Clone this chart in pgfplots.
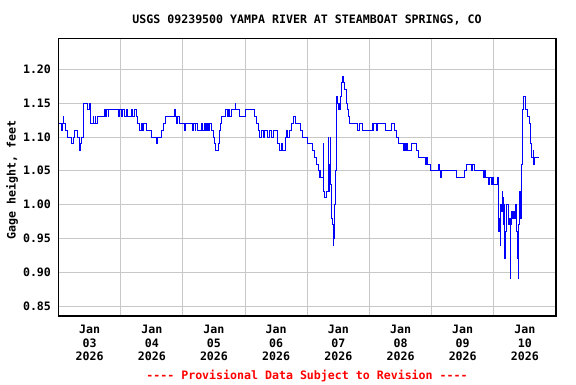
\documentclass[border=0pt]{standalone}
\usepackage{pgfplots}
\pgfplotsset{compat=1.18}
\usepackage{fontspec}
\setmonofont[BoldFont={DejaVu Sans Mono Bold}]{DejaVu Sans Mono}
\definecolor{gridgray}{RGB}{200,200,200}
\newcommand\lbl{\fontsize{11.6}{13.4}\selectfont\ttfamily\bfseries}
\begin{document}
\begin{tikzpicture}[x=1pt,y=1pt]
\useasboundingbox (0,0) rectangle (576,384);
\begin{axis}[
  at={(58.5pt,68pt)}, anchor=south west,
  width=497.5pt, height=277.5pt, scale only axis,
  xmin=0, xmax=8, ymin=0.8352, ymax=1.2456,
  axis line style={black, line width=1.2pt},
  xtick={0.5,1.5,2.5,3.5,4.5,5.5,6.5,7.5},
  xticklabels={{Jan\\03\\2026},{Jan\\04\\2026},{Jan\\05\\2026},{Jan\\06\\2026},{Jan\\07\\2026},{Jan\\08\\2026},{Jan\\09\\2026},{Jan\\10\\2026}},
  minor xtick={1,2,3,4,5,6,7},
  xminorgrids=true, xmajorgrids=false, ymajorgrids=true,
  grid style={gridgray, line width=0.9pt},
  minor grid style={gridgray, line width=0.9pt},
  major tick length=0pt, minor tick length=0pt,
  ytick={0.85,0.90,0.95,1.00,1.05,1.10,1.15,1.20},
  /pgf/number format/fixed, /pgf/number format/fixed zerofill, /pgf/number format/precision=2, /pgf/number format/assume math mode=true,
  ticklabel style={font=\lbl},
  xticklabel style={align=center, yshift=-6pt},
  yticklabel style={xshift=-4pt},
]
\addplot[const plot, blue, line width=0.9pt] coordinates {
(0,1.12)(0.054,1.11)(0.065,1.12)(0.075,1.13)(0.086,1.12)(0.108,1.11)(0.140,1.10)(0.215,1.09)(0.242,1.10)(0.258,1.11)(0.312,1.10)(0.333,1.08)(0.355,1.09)(0.376,1.10)(0.398,1.13)(0.409,1.15)(0.473,1.14)(0.495,1.15)(0.516,1.12)(0.559,1.13)(0.570,1.12)(0.591,1.13)(0.602,1.12)(0.629,1.13)(0.737,1.14)(0.763,1.13)(0.774,1.14)(0.796,1.13)(0.806,1.14)(0.957,1.13)(0.978,1.14)(1.005,1.13)(1.032,1.14)(1.059,1.13)(1.086,1.14)(1.113,1.13)(1.167,1.14)(1.194,1.13)(1.220,1.14)(1.247,1.13)(1.274,1.12)(1.301,1.11)(1.328,1.12)(1.344,1.11)(1.366,1.12)(1.409,1.11)(1.489,1.10)(1.570,1.09)(1.597,1.10)(1.651,1.11)(1.688,1.12)(1.720,1.13)(1.866,1.14)(1.876,1.13)(1.903,1.12)(1.919,1.13)(1.946,1.12)(2.027,1.11)(2.043,1.12)
(2.155,1.11)(2.166,1.12)(2.198,1.11)(2.208,1.12)(2.235,1.11)(2.305,1.12)(2.320,1.11)(2.342,1.12)(2.355,1.11)(2.369,1.12)(2.380,1.11)(2.396,1.12)(2.410,1.11)(2.433,1.12)(2.465,1.11)(2.486,1.10)(2.508,1.09)(2.519,1.08)(2.572,1.09)(2.583,1.10)(2.593,1.11)(2.604,1.12)(2.615,1.13)(2.690,1.14)(2.711,1.13)(2.732,1.14)(2.754,1.13)(2.775,1.14)(2.839,1.15)(2.850,1.14)(2.904,1.13)(3.000,1.14)(3.144,1.13)(3.182,1.12)(3.214,1.11)(3.235,1.10)(3.257,1.11)(3.289,1.10)(3.310,1.11)(3.358,1.10)(3.385,1.11)(3.428,1.10)(3.449,1.11)(3.519,1.09)(3.545,1.08)(3.588,1.09)(3.599,1.08)(3.642,1.10)(3.663,1.11)(3.684,1.10)(3.716,1.11)(3.749,1.12)(3.786,1.13)(3.813,1.12)(3.893,1.11)(3.920,1.10)(4.000,1.09)(4.083,1.08)(4.110,1.07)
(4.140,1.06)(4.177,1.05)(4.199,1.04)(4.210,1.05)(4.220,1.04)(4.258,1.09)(4.263,1.02)(4.274,1.01)(4.301,1.02)(4.333,1.10)(4.339,1.05)(4.344,1.02)(4.349,1.06)(4.355,1.02)(4.360,1.05)(4.366,1.03)(4.371,1.10)(4.376,1.03)(4.382,1.00)(4.392,0.98)(4.403,0.97)(4.414,0.95)(4.419,0.94)(4.425,0.95)(4.430,0.96)(4.441,1.00)(4.452,1.05)(4.462,1.11)(4.473,1.16)(4.489,1.15)(4.505,1.14)(4.516,1.15)(4.527,1.14)(4.532,1.16)(4.543,1.18)(4.559,1.19)(4.586,1.18)(4.602,1.17)(4.624,1.15)(4.640,1.14)(4.661,1.13)(4.683,1.12)(4.812,1.11)(4.839,1.12)(4.892,1.11)(5.043,1.12)(5.059,1.11)(5.070,1.12)(5.108,1.11)(5.124,1.12)(5.251,1.11)(5.358,1.12)(5.401,1.11)(5.439,1.10)(5.465,1.09)(5.545,1.08)(5.560,1.09)(5.575,1.08)(5.590,1.09)(5.605,1.08)(5.679,1.09)(5.759,1.08)(5.786,1.07)(5.893,1.06)(5.900,1.07)(5.910,1.06)(5.920,1.07)(5.930,1.06)(5.989,1.05)
(6.113,1.06)(6.124,1.05)(6.140,1.04)(6.151,1.05)(6.392,1.04)(6.527,1.05)(6.554,1.06)(6.634,1.05)(6.651,1.06)(6.688,1.05)(6.833,1.04)(6.849,1.05)(6.866,1.04)(6.909,1.03)(6.930,1.04)(6.962,1.03)(6.984,1.04)(7.000,1.03)(7.065,1.04)(7.081,0.96)(7.091,0.98)(7.102,0.94)(7.113,1.00)(7.124,0.99)(7.134,1.02)(7.145,1.01)(7.156,0.97)(7.167,1.00)(7.177,0.92)(7.188,0.96)(7.199,1.00)(7.242,0.97)(7.253,0.98)(7.263,0.89)(7.274,0.97)(7.285,0.99)(7.296,0.98)(7.306,0.99)(7.317,0.98)(7.328,0.99)(7.339,0.98)(7.349,1.00)(7.360,0.98)(7.371,0.96)(7.382,0.92)(7.392,0.89)(7.403,0.97)(7.414,1.02)(7.425,1.01)(7.435,0.98)(7.446,1.06)(7.457,1.09)(7.468,1.14)(7.478,1.16)(7.513,1.14)(7.535,1.13)(7.567,1.12)(7.588,1.09)(7.604,1.07)(7.636,1.08)(7.645,1.06)(7.658,1.07)(7.72,1.07)
};
\end{axis}
\node[font=\lbl] at (307,364) {USGS 09239500 YAMPA RIVER AT STEAMBOAT SPRINGS, CO};
\node[font=\lbl, rotate=90] at (12,204) {Gage height, feet};
\node[font=\lbl, text=red] at (307,8.5) {---- Provisional Data Subject to Revision ----};
\end{tikzpicture}
\end{document}
